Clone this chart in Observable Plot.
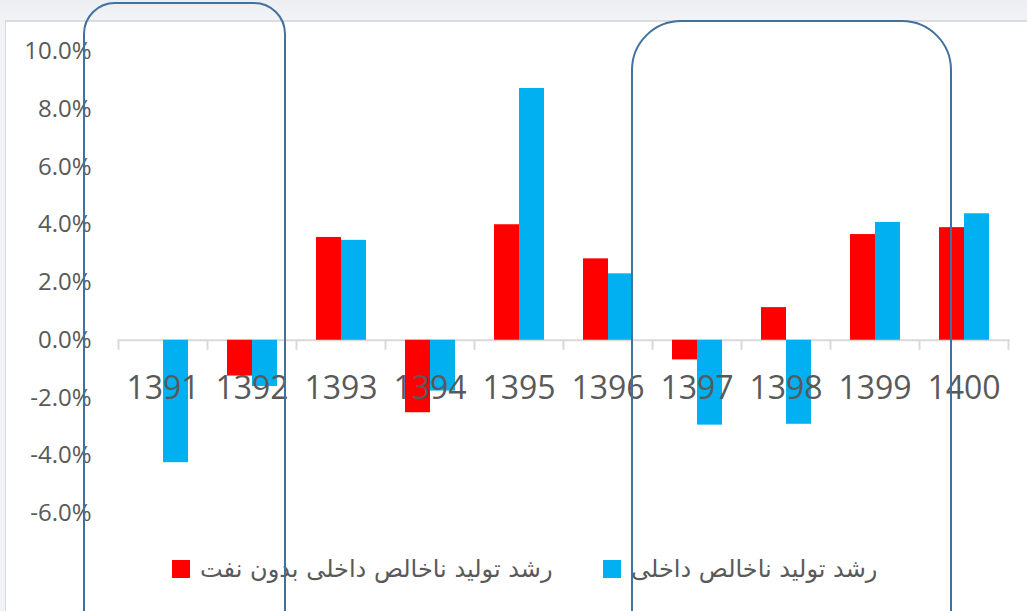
<!DOCTYPE html>
<html>
<head>
<meta charset="utf-8">
<script src="https://cdn.jsdelivr.net/npm/d3@7"></script>
<script src="https://cdn.jsdelivr.net/npm/@observablehq/plot@0.6"></script>
<style>
  html, body { margin: 0; padding: 0; }
  body { width: 1027px; height: 611px; overflow: hidden; position: relative;
         background: linear-gradient(#eceef1 0px, #f1f3f6 20px); font-family: "Open Sans", sans-serif; }
  #panel { position: absolute; left: 5px; top: 20px; width: 1022px; height: 591px; background: #fff;
           border-left: 1px solid #d6d8dc; border-top: 2px solid #dadcdf; box-sizing: border-box; }
  #axis, #chart { position: absolute; left: 0; top: 0; }
  #axis svg line, #axis svg path { stroke-width: 2px; }
  .box { position: absolute; border: 2px solid #41719c; box-sizing: border-box; }
  #legend { position: absolute; left: 0; top: 552px; width: 1027px; height: 34px; }
  .item { position: absolute; top: 0; height: 34px; display: flex; align-items: center; gap: 10px; }
  .swatch { width: 18px; height: 18px; }
  .label { font-family: "DejaVu Sans", sans-serif; font-size: 24px; color: #595959; white-space: nowrap; }
</style>
</head>
<body>
<div id="panel"></div>
<div id="axis"></div>
<div id="chart"></div>
<div id="legend"></div>
<div class="box" style="left:83px; top:2px; width:203px; height:660px; border-radius:32px;"></div>
<div class="box" style="left:631px; top:20px; width:321px; height:660px; border-radius:50px;"></div>
<script>
// ---- data ----
const years = ["1391", "1392", "1393", "1394", "1395", "1396", "1397", "1398", "1399", "1400"];
const seriesNames = ["رشد تولید ناخالص داخلی بدون نفت", "رشد تولید ناخالص داخلی"];
const nonOilGrowth = [0, -1.24, 3.56, -2.51, 4.0, 2.82, -0.68, 1.13, 3.66, 3.90];
const gdpGrowth = [-4.24, -1.60, 3.46, -1.76, 8.72, 2.30, -2.94, -2.91, 4.08, 4.38];
const yTicks = [-6, -4, -2, 0, 2, 4, 6, 8, 10];
const seriesColors = ["#ff0000", "#00b0f0"];

const rows = [];
years.forEach((yr, i) => {
  rows.push({year: yr, series: seriesNames[0], value: nonOilGrowth[i]});
  rows.push({year: yr, series: seriesNames[1], value: gdpGrowth[i]});
});

const W = 1027, ML = 118, MR = 19;

const chart = Plot.plot({
  width: W, height: 545,
  marginLeft: ML, marginRight: MR, marginTop: 51, marginBottom: 32,
  style: {background: "transparent", color: "#595959", fontFamily: "'Open Sans', sans-serif", fontSize: "24px", overflow: "visible"},
  facet: {data: rows, x: "year"},
  fx: {domain: years, padding: 0, axis: null},
  x: {domain: seriesNames, paddingInner: 0, paddingOuter: 0.745, axis: null},
  y: {domain: [-6, 10], ticks: yTicks, tickFormat: d => d.toFixed(1) + "%", tickSize: 0, tickPadding: 27, label: null},
  color: {domain: seriesNames, range: seriesColors},
  marks: [
    Plot.barY(rows, {x: "series", y: "value", fill: "series"}),
    Plot.text(rows, {filter: d => d.series === seriesNames[0], text: "year", y: () => 0, dy: 48,
      fill: "#595959", fontSize: 32, fontFamily: "'Open Sans', sans-serif"})
  ]
});
document.getElementById("chart").appendChild(chart);

const y0 = chart.scale("y").apply(0);
const boundaries = d3.range(years.length + 1);
const axis = Plot.plot({
  width: W, height: y0 + 20,
  marginLeft: ML, marginRight: MR, marginTop: 0, marginBottom: 20,
  style: {background: "transparent", color: "#d9d9d9", overflow: "visible"},
  x: {domain: [0, years.length], ticks: boundaries, tickSize: 10, tickFormat: () => "", line: true, label: null},
  marks: [Plot.ruleX(boundaries, {strokeOpacity: 0})]
});
document.getElementById("axis").appendChild(axis);

// legend
const legend = document.getElementById("legend");
const legendLeft = [172, 603];
seriesNames.forEach((name, i) => {
  const item = document.createElement("div");
  item.className = "item";
  item.style.left = legendLeft[i] + "px";
  const sw = document.createElement("div");
  sw.className = "swatch";
  sw.style.background = seriesColors[i];
  const lab = document.createElement("span");
  lab.className = "label";
  lab.dir = "rtl";
  lab.textContent = name;
  item.appendChild(sw);
  item.appendChild(lab);
  legend.appendChild(item);
});
</script>
</body>
</html>
